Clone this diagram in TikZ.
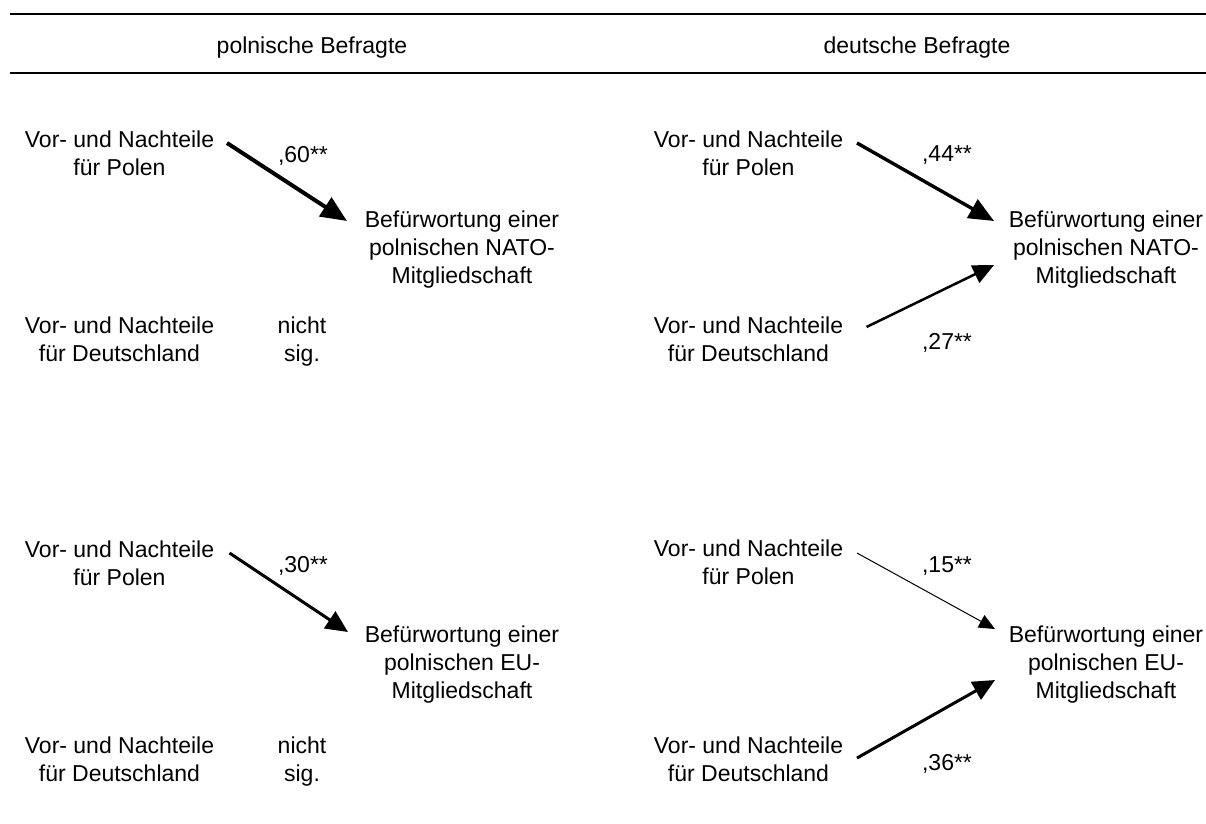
\documentclass[tikz,border=0pt]{standalone}
\usepackage{fontspec}
\setmainfont{Liberation Sans}
\usetikzlibrary{arrows.meta,calc}
\begin{document}
\begin{tikzpicture}[x=1pt,y=-1pt,
  txt/.style={font=\fontsize{23}{28}\selectfont, align=center, inner sep=0pt, anchor=base},
  rule/.style={line width=2.2pt},
  heavy/.style={line width=4pt, -{Triangle[length=26pt,width=22pt]}},
  strong/.style={line width=3.4pt, -{Triangle[length=25pt,width=21pt]}},
  medium/.style={line width=3pt, -{Triangle[length=22pt,width=20pt]}},
  light/.style={line width=2.5pt, -{Triangle[length=21pt,width=19pt]}},
  thin/.style={line width=1pt, -{Triangle[length=16pt,width=14pt]}}]
\useasboundingbox (0,0) rectangle (1206,823);
% header rules
\draw[rule] (10,14) -- (1206,14);
\draw[rule] (10,73) -- (1206,73);
\node[txt] (hpl) at (312,53) {polnische Befragte};
\node[txt] (hde) at (917,53) {deutsche Befragte};

% top-left panel (node base = baseline of last line)
\node[txt] (a1) at (119.5,175) {Vor- und Nachteile\\für Polen};
\node[txt] (t1) at (462,283) {Befürwortung einer\\polnischen NATO-\\Mitgliedschaft};
\node[txt] (d1) at (119.5,361) {Vor- und Nachteile\\für Deutschland};
\node[txt] (n1) at (302,361) {nicht\\sig.};
\draw[heavy] ($(a1.base)+(107.5,-32)$) -- ($(t1.base)+(-115,-62)$);
\node[txt] (v1) at (303,162) {,60**};

% top-right panel
\node[txt] (a2) at (748.5,175) {Vor- und Nachteile\\für Polen};
\node[txt] (t2) at (1106,283) {Befürwortung einer\\polnischen NATO-\\Mitgliedschaft};
\node[txt] (d2) at (748.5,361) {Vor- und Nachteile\\für Deutschland};
\draw[strong] ($(a2.base)+(108.5,-32)$) -- ($(t2.base)+(-112,-62)$);
\draw[light] ($(d2.base)+(118,-34)$) -- ($(t2.base)+(-112,-18)$);
\node[txt] (v2) at (947,161) {,44**};
\node[txt] (v3) at (947,349) {,27**};

% bottom-left panel
\node[txt] (a3) at (119.5,585) {Vor- und Nachteile\\für Polen};
\node[txt] (t3) at (462,698) {Befürwortung einer\\polnischen EU-\\Mitgliedschaft};
\node[txt] (d3) at (119.5,781) {Vor- und Nachteile\\für Deutschland};
\node[txt] (n3) at (302,781) {nicht\\sig.};
\draw[medium] ($(a3.base)+(110,-32)$) -- ($(t3.base)+(-114,-66)$);
\node[txt] (v4) at (303,572) {,30**};

% bottom-right panel
\node[txt] (a4) at (748.5,584) {Vor- und Nachteile\\für Polen};
\node[txt] (t4) at (1106,698) {Befürwortung einer\\polnischen EU-\\Mitgliedschaft};
\node[txt] (d4) at (748.5,781) {Vor- und Nachteile\\für Deutschland};
\draw[thin] ($(a4.base)+(108.5,-31)$) -- ($(t4.base)+(-111,-69)$);
\draw[medium] ($(d4.base)+(108.5,-23)$) -- ($(t4.base)+(-111,-18)$);
\node[txt] (v5) at (947,572) {,15**};
\node[txt] (v6) at (947,770) {,36**};
\end{tikzpicture}
\end{document}
